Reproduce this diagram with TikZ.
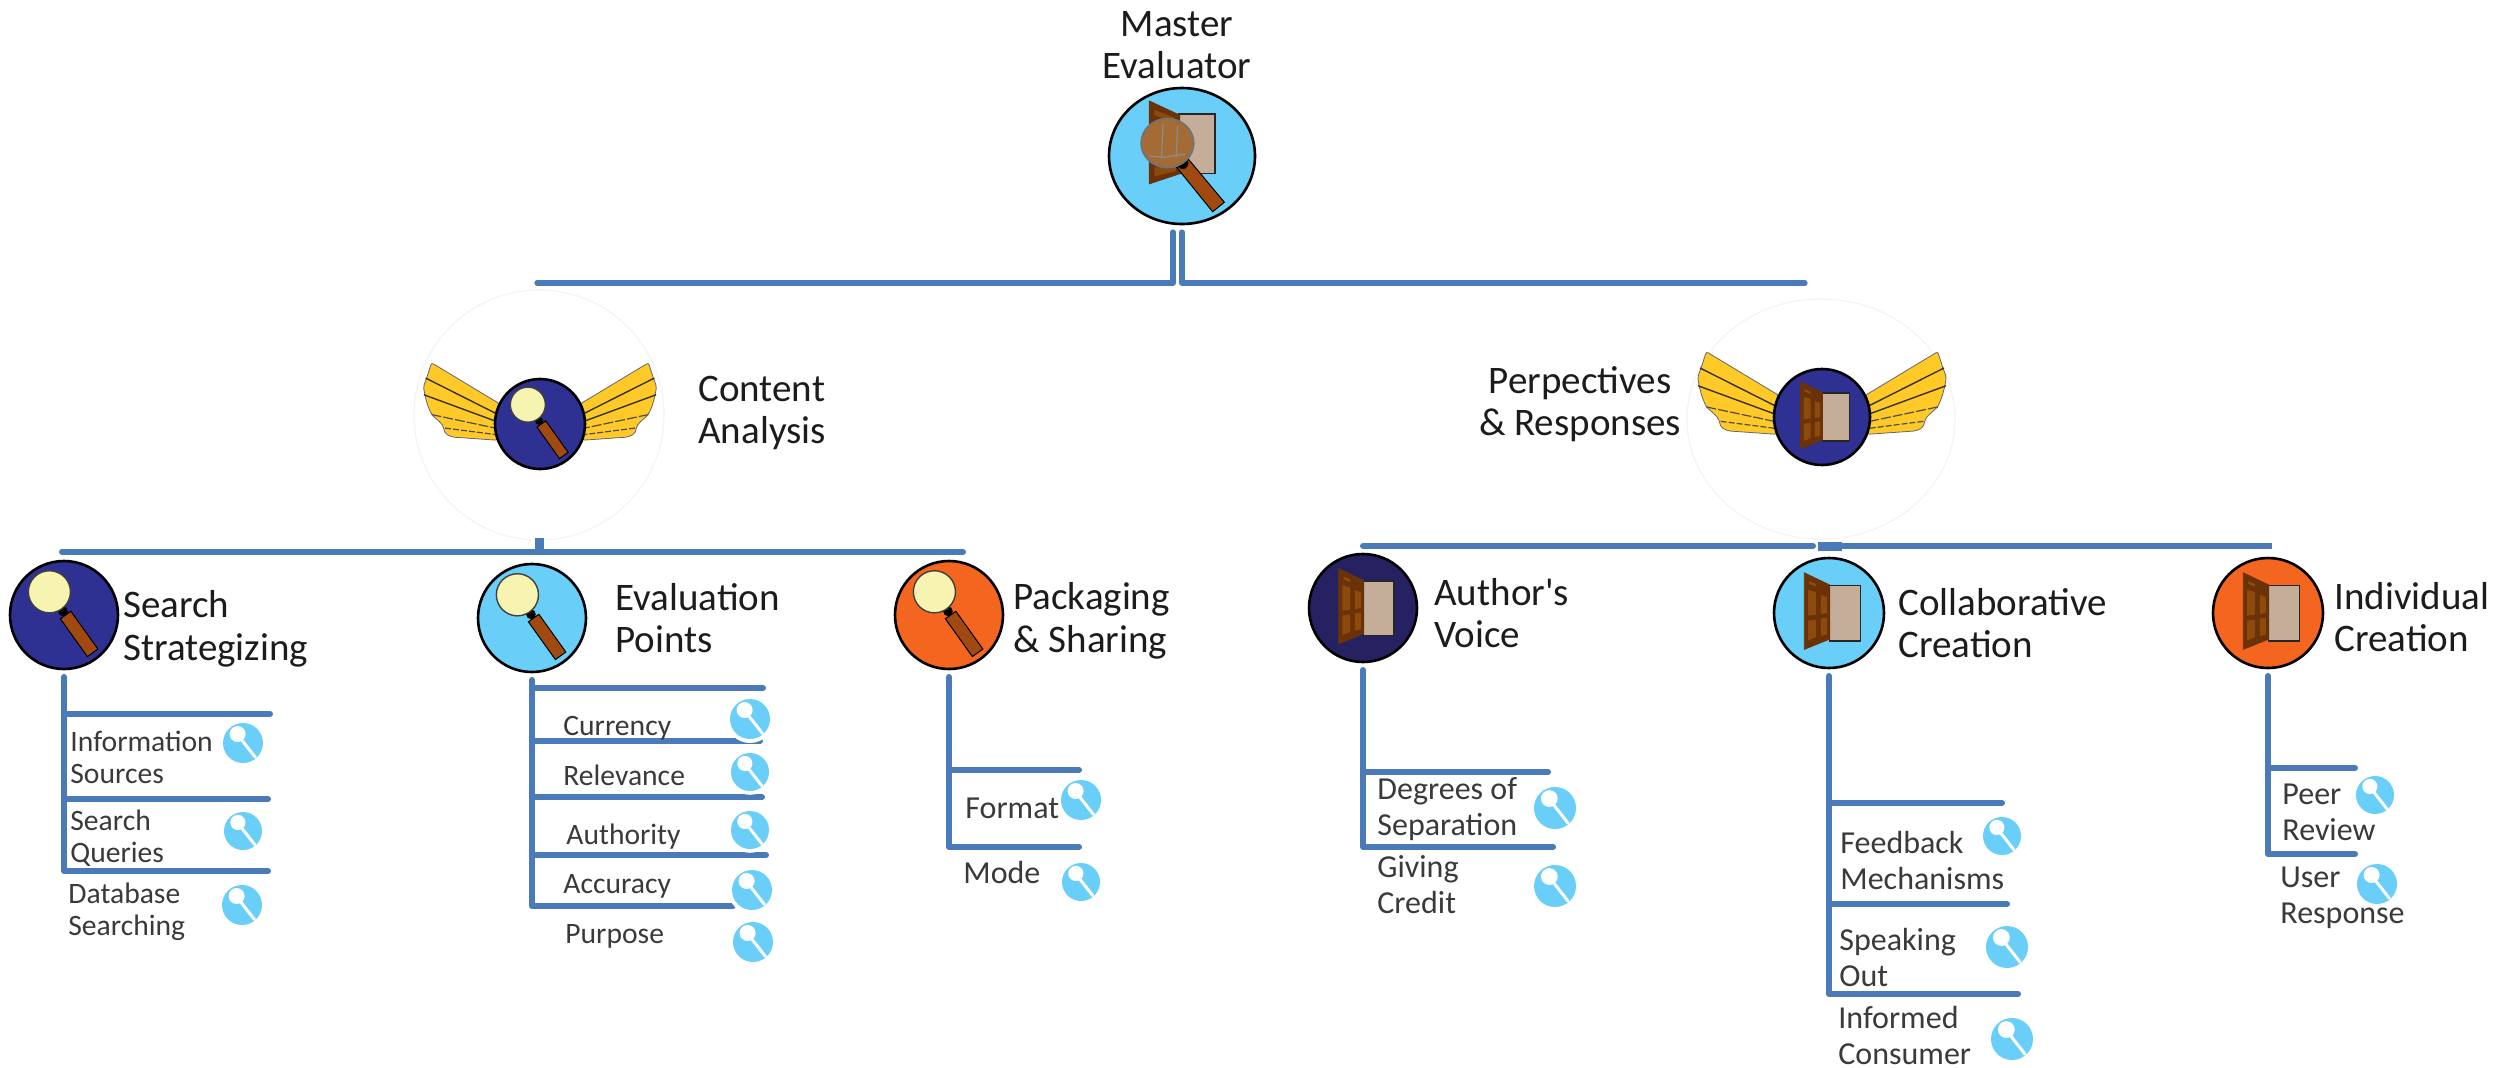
\documentclass[tikz,border=0pt]{standalone}
\usepackage{fontspec}
\setmainfont{Carlito}
\usetikzlibrary{shapes.geometric}
\definecolor{busblue}{HTML}{4A7AB8}
\definecolor{skyfill}{HTML}{69CFF8}
\definecolor{navyfill}{HTML}{2E3192}
\definecolor{deepnavy}{HTML}{262262}
\definecolor{orangefill}{HTML}{F4661F}
\definecolor{handlebrown}{HTML}{A04A12}
\definecolor{doorbrown}{HTML}{6B3208}
\definecolor{panelbrown}{HTML}{8C4A0C}
\definecolor{openingtan}{HTML}{C4AE99}
\definecolor{lensyellow}{HTML}{F6F4B0}
\definecolor{winggold}{HTML}{FFC927}
\definecolor{faintring}{HTML}{F4F4F4}
\definecolor{darktext}{HTML}{1C1C1C}
\definecolor{softtext}{HTML}{3A3A3A}
\tikzset{
  bus/.style={draw=busblue,line width=3pt,line cap=round,line join=round},
  disc/.style={circle,draw=black,line width=1.3pt,inner sep=0pt,outer sep=0pt},
  ring/.style={ellipse,draw=faintring,line width=0.6pt,inner sep=0pt,outer sep=0pt},
  halodisc/.style={circle,fill=white,inner sep=0pt,outer sep=0pt},
  bigtext/.style={font=\fontsize{19.5}{21.3}\selectfont,text=darktext,inner sep=0pt},
  smalltext/.style={font=\fontsize{14.8}{16}\selectfont,text=softtext,inner sep=0pt,align=left,anchor=west},
  widetext/.style={font=\fontsize{16}{18}\selectfont,text=softtext,inner sep=0pt,align=left,anchor=west},
  maglens/.pic={
    \draw[black,line width=0.5pt,fill=handlebrown] (0.127,-0.07) -- (-0.067,0.07) -- (0.433,0.77) -- (0.627,0.63) -- cycle;
    \fill[black] (-0.02,-0.07) circle (0.09);
    \draw[fill=lensyellow,draw=black!75,line width=0.7pt] (-0.27,-0.43) circle (0.39);
  },
  doorleaf/.pic={
    \draw[fill=openingtan,draw=black!85,line width=0.8pt] (0.012,-0.5) rectangle (0.57,0.506);
    \draw[fill=doorbrown,draw=doorbrown,line width=0.4pt] (-0.45,-0.73) -- (0.012,-0.51) -- (0.012,0.475) -- (-0.45,0.66) -- cycle;
    \fill[panelbrown] (-0.38,-0.42) -- (-0.24,-0.38) -- (-0.24,0.03) -- (-0.38,0.05) -- cycle;
    \fill[panelbrown] (-0.15,-0.33) -- (-0.04,-0.29) -- (-0.04,0.0) -- (-0.15,0.02) -- cycle;
    \fill[panelbrown] (-0.38,0.14) -- (-0.24,0.12) -- (-0.24,0.44) -- (-0.38,0.5) -- cycle;
    \fill[panelbrown] (-0.15,0.1) -- (-0.04,0.09) -- (-0.04,0.39) -- (-0.15,0.42) -- cycle;
    \fill[panelbrown] (-0.36,-0.58) -- (-0.24,-0.53) -- (-0.24,-0.48) -- (-0.36,-0.53) -- cycle;
  },
  smallmag/.pic={
    \fill[skyfill] (0,0) circle (1);
    \draw[white,line width=1.5pt,line cap=round] (-0.1,-0.2) -- (0.62,0.72);
    \fill[white] (-0.27,-0.45) circle (0.4);
  },
  wingshape/.pic={
    \draw[fill=winggold,draw=black!60,line width=0.4pt,rounded corners=1pt]
      (-0.9,-0.45) -- (-2.41,-1.36) -- (-2.52,-1.02) -- (-2.59,-0.83) -- (-2.56,-0.65)
      -- (-2.5,-0.42) -- (-2.41,-0.21) -- (-2.2,-0.02) -- (-2.16,0.03) -- (-2.1,0.22) -- (-1.95,0.29) -- (-0.95,0.36) -- cycle;
    \draw[black!80,line width=0.7pt] (-2.54,-1.02) -- (-0.95,-0.22);
    \draw[black!80,line width=0.7pt] (-2.58,-0.65) -- (-0.95,-0.05);
    \draw[black!70,line width=0.6pt,dash pattern=on 5pt off 1pt] (-2.41,-0.21) -- (-0.95,0.1);
    \draw[black!70,line width=0.6pt,dash pattern=on 3pt off 1pt] (-2.11,0.09) -- (-0.95,0.24);
  },
}
\newcommand{\lensmark}[4]{%
  \node[halodisc,minimum size=#4*1.2pt] (#1) at (#2,#3) {};
  \pic[scale=#4] at (#1) {smallmag};}
\begin{document}
\begin{tikzpicture}[x=0.5pt,y=-0.5pt]
\useasboundingbox (0,0) rectangle (2506,1067);
\fill[white] (0,0) rectangle (2506,1067);

% faint rings
\node[ring,minimum width=125pt,minimum height=125pt] (contentring) at (539,415) {};
\node[ring,minimum width=134pt,minimum height=120pt] (persring) at (1821,419) {};

% wings
\pic[scale=45] at (540,424) {wingshape};
\pic[scale=45,xscale=-1] at (540,424) {wingshape};
\pic[scale=48] at (1822,417) {wingshape};
\pic[scale=48,xscale=-1] at (1822,417) {wingshape};

% discs
\node[ellipse,draw=black,line width=1.3pt,inner sep=0pt,outer sep=0pt,fill=skyfill,minimum width=73pt,minimum height=68pt] (master) at (1182,156) {};
\node[disc,fill=navyfill,minimum size=45pt] (content) at (540,424) {};
\node[disc,fill=navyfill,minimum size=48pt] (perspect) at (1822,417) {};
\node[disc,fill=navyfill,minimum size=54pt] (search) at (64,615) {};
\node[disc,fill=skyfill,minimum size=54pt] (evalu) at (532,618) {};
\node[disc,fill=orangefill,minimum size=54pt] (packing) at (949,615) {};
\node[disc,fill=deepnavy,minimum size=54pt] (author) at (1363,608) {};
\node[disc,fill=skyfill,minimum size=55pt] (collab) at (1829,613) {};
\node[disc,fill=orangefill,minimum size=55pt] (indiv) at (2268,613) {};

% icons
\pic[scale=45] at (content) {maglens};
\pic[scale=48] at (perspect) {doorleaf};
\pic[scale=54] at (search) {maglens};
\pic[scale=54] at (evalu) {maglens};
\pic[scale=54] at (packing) {maglens};
\pic[scale=54] at (author) {doorleaf};
\pic[scale=55] at (collab) {doorleaf};
\pic[scale=55] at (indiv) {doorleaf};

% master icon
\begin{scope}[shift={(master.center)},x=36.5pt,y=-34pt]
  \draw[fill=openingtan,draw=black!85,line width=0.8pt] (-0.04,-0.62) rectangle (0.45,0.26);
  \draw[fill=doorbrown,draw=doorbrown] (-0.45,-0.81) -- (-0.03,-0.6) -- (-0.03,0.26) -- (-0.45,0.41) -- cycle;
  \fill[panelbrown] (-0.38,0.17) -- (-0.08,0.12) -- (-0.08,0.22) -- (-0.38,0.3) -- cycle;
  \fill[panelbrown] (-0.38,-0.68) -- (-0.1,-0.56) -- (-0.1,-0.5) -- (-0.38,-0.6) -- cycle;
  \draw[black,line width=0.5pt,fill=handlebrown] (0.09,0.05) -- (-0.07,0.17) -- (0.42,0.82) -- (0.58,0.68) -- cycle;
  \fill[black] (0.01,0.11) circle [x radius=0.08,y radius=0.08];
  \draw[fill=brown!85!black,draw=black!55,line width=0.9pt] (-0.2,-0.19) circle [x radius=0.36,y radius=0.36];
  \draw[black!45,line width=0.6pt] (-0.26,-0.47) -- (-0.28,0.02) (-0.06,-0.44) -- (-0.08,0.02) (-0.45,0.0) -- (-0.25,0.02) -- (0.05,-0.03);
\end{scope}

% top bus
\coordinate (leftend) at (537,283);
\coordinate (rightend) at (1805,283);
\draw[bus,line width=2.6pt] ([xshift=-4.5pt,yshift=-4pt]master.south) |- (leftend);
\draw[bus,line width=2.6pt] ([yshift=-4pt]master.south) |- (rightend);
\draw[bus,line width=3pt,line cap=butt] (1173,283) -- (leftend);
\draw[bus,line width=3pt,line cap=butt] (1182,283) -- (rightend);

% content bus
\coordinate (cleft) at (62,552);
\coordinate (cright) at (963,552);
\draw[bus] (cleft) -- (cright);
\draw[bus,line width=4.5pt,line cap=butt] ([yshift=1pt]contentring.south) -- (contentring.south |- cleft);

% perspectives bus
\coordinate (pleft) at (1363,546);
\coordinate (pgapa) at (1813,546);
\coordinate (pgapb) at (1818,546);
\coordinate (pthick) at (1842,546);
\coordinate (pright) at (2272,546);
\draw[bus] (pleft) -- (pgapa);
\draw[bus,line cap=butt] (pgapb) -- (pright);
\draw[bus,line width=4.5pt,line cap=butt] (pgapb) -- (pthick);

% search branch
\coordinate (sa) at (270,714); \coordinate (sb) at (268,799); \coordinate (sc) at (268,871);
\draw[bus] ([yshift=-4pt]search.south) -- (search.south |- sc) -- (sc);
\draw[bus] (search.south |- sa) -- (sa);
\draw[bus] (search.south |- sb) -- (sb);

% evaluation branch
\coordinate (ea) at (763,688); \coordinate (eb) at (760,741); \coordinate (ec) at (762,797);
\coordinate (ed) at (766,855); \coordinate (ee) at (733,906);
\draw[bus] ([yshift=-4pt]evalu.south) -- (evalu.south |- ee) -- (ee);
\draw[bus] (evalu.south |- ea) -- (ea);
\draw[bus] (evalu.south |- eb) -- (eb);
\draw[bus] (evalu.south |- ec) -- (ec);
\draw[bus] (evalu.south |- ed) -- (ed);

% packaging branch
\coordinate (fa) at (1079,770); \coordinate (fb) at (1079,847);
\draw[bus] ([yshift=-4pt]packing.south) -- (packing.south |- fb) -- (fb);
\draw[bus] (packing.south |- fa) -- (fa);

% author branch
\coordinate (aa) at (1548,772); \coordinate (ab) at (1553,847);
\draw[bus] ([yshift=-4pt]author.south) -- (author.south |- ab) -- (ab);
\draw[bus] (author.south |- aa) -- (aa);

% collaborative branch
\coordinate (ca) at (2002,803); \coordinate (cb) at (2007,904); \coordinate (cc) at (2018,994);
\draw[bus] ([yshift=-4pt]collab.south) -- (collab.south |- cc) -- (cc);
\draw[bus] (collab.south |- ca) -- (ca);
\draw[bus] (collab.south |- cb) -- (cb);

% individual branch
\coordinate (ia) at (2355,768); \coordinate (ib) at (2355,854);
\draw[bus] ([yshift=-4pt]indiv.south) -- (indiv.south |- ib) -- (ib);
\draw[bus] (indiv.south |- ia) -- (ia);

% small lens marks
\lensmark{la}{243}{743}{20}
\lensmark{lb}{243}{831}{19}
\lensmark{lc}{242}{905}{20}
\lensmark{ld}{750}{719}{20}
\lensmark{le}{750}{772}{19}
\lensmark{lf}{750}{830}{19}
\lensmark{lg}{752}{890}{20}
\lensmark{lh}{753}{942}{20}
\lensmark{li}{1081}{800}{20}
\lensmark{lj}{1081}{882}{19}
\lensmark{lk}{1555}{808}{21}
\lensmark{ll}{1555}{886}{21}
\lensmark{lm}{2002}{836}{19}
\lensmark{ln}{2007}{947}{21}
\lensmark{lo}{2012}{1039}{21}
\lensmark{lp}{2375}{795}{19}
\lensmark{lq}{2377}{884}{20}

% large labels
\node[bigtext,align=center] (tmaster) at (1177,45) {Master\\Evaluator};
\node[bigtext,align=left,anchor=west] (tcontent) at (698,413) {Content\\Analysis};
\node[bigtext,align=center] (tpers) at (1580,404) {Perpectives\\\& Responses};
\node[bigtext,align=left,anchor=west] (tsearch) at (123,629) {Search\\Strategizing};
\node[bigtext,align=left,anchor=west] (teval) at (615,618) {Evaluation\\Points};
\node[bigtext,align=left,anchor=west] (tpack) at (1013,621) {Packaging\\\& Sharing};
\node[bigtext,align=left,anchor=west] (tauth) at (1434,613) {Author\textquotesingle s\\Voice};
\node[bigtext,align=left,anchor=west] (tcoll) at (1898,623) {Collaborative\\Creation};
\node[bigtext,align=left,anchor=west] (tindi) at (2334,617) {Individual\\Creation};

% small labels
\node[smalltext] (xa) at (70,757) {Information\\Sources};
\node[smalltext] (xb) at (70,838) {Search\\Queries};
\node[smalltext] (xc) at (68,912) {Database\\Searching};
\node[smalltext] (xd) at (563,728) {Currency};
\node[smalltext] (xe) at (563,775) {Relevance};
\node[smalltext] (xf) at (566,837) {Authority};
\node[smalltext] (xg) at (563,886) {Accuracy};
\node[smalltext] (xh) at (565,936) {Purpose};
\node[widetext] (xi) at (965,808) {Format};
\node[widetext] (xj) at (963,872) {Mode};
\node[widetext] (xk) at (1377,809) {Degrees of\\Separation};
\node[widetext] (xl) at (1377,885) {Giving\\Credit};
\node[widetext] (xm) at (1840,860) {Feedback\\Mechanisms};
\node[widetext] (xn) at (1839,957) {Speaking\\Out};
\node[widetext] (xo) at (1838,1035) {Informed\\Consumer};
\node[widetext] (xp) at (2282,812) {Peer\\Review};
\node[widetext] (xq) at (2280,898) {User\\Response};
\end{tikzpicture}
\end{document}
